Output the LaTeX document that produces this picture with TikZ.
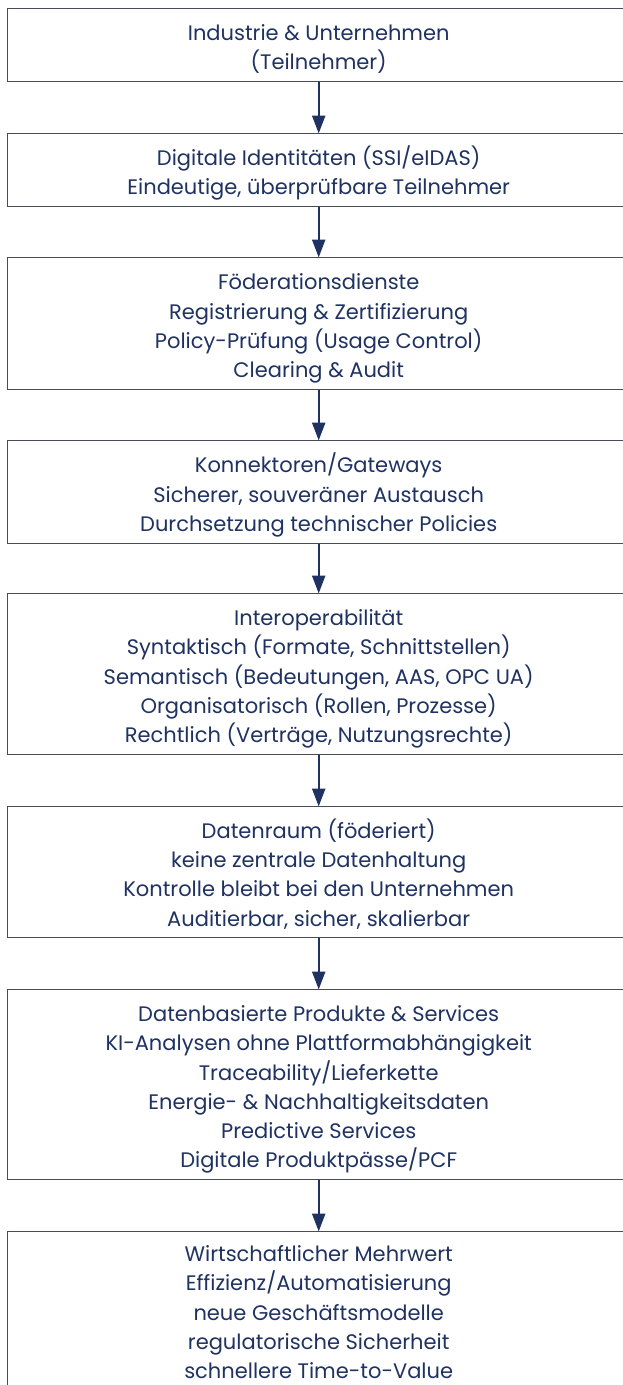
\documentclass[tikz,border=0pt]{standalone}
\usepackage{fontspec}
\setmainfont{Poppins}
\usetikzlibrary{arrows.meta}
\definecolor{navy}{RGB}{31,50,98}
\definecolor{edge}{RGB}{72,76,88}
\newcommand{\tstr}{\rule{0pt}{26pt}}
\newcommand{\tstrlast}{\rule{0pt}{22pt}}
\newcommand{\bstr}{\rule[-6pt]{0pt}{0pt}}
\tikzset{
  stagebox/.style={draw=edge, line width=1.4pt, fill=white, anchor=north west,
    minimum width=622pt, inner sep=0pt, align=center, text=navy,
    font=\fontsize{21}{29.3}\selectfont},
  flowarrow/.style={draw=navy, line width=2.4pt,
    -{Triangle[length=18pt,width=13pt]}, shorten >=-0.5pt}
}
\begin{document}
\begin{tikzpicture}[x=1pt,y=-1pt]
\useasboundingbox (0,0) rectangle (623,1385);
\clip (0,0) rectangle (623,1385);
\fill[white] (0,0) rectangle (623,1385);
\node[stagebox, minimum height=73pt] (b1) at (7,8)
  {\tstr Industrie \& Unternehmen\\(Teilnehmer)\bstr};
\node[stagebox, minimum height=73pt] (b2) at (7,133)
  {\tstr Digitale Identitäten (SSI/eIDAS)\\Eindeutige, überprüfbare Teilnehmer\bstr};
\node[stagebox, minimum height=132pt] (b3) at (7,257)
  {\tstr Föderationsdienste\\Registrierung \& Zertifizierung\\Policy-Prüfung (Usage Control)\\Clearing \& Audit\bstr};
\node[stagebox, minimum height=103pt] (b4) at (7,440)
  {\tstr Konnektoren/Gateways\\Sicherer, souveräner Austausch\\Durchsetzung technischer Policies\bstr};
\node[stagebox, minimum height=161pt] (b5) at (7,593)
  {\tstr Interoperabilität\\Syntaktisch (Formate, Schnittstellen)\\Semantisch (Bedeutungen, AAS, OPC UA)\\Organisatorisch (Rollen, Prozesse)\\Rechtlich (Verträge, Nutzungsrechte)\bstr};
\node[stagebox, minimum height=131pt] (b6) at (7,806)
  {\tstr Datenraum (föderiert)\\keine zentrale Datenhaltung\\Kontrolle bleibt bei den Unternehmen\\Auditierbar, sicher, skalierbar\bstr};
\node[stagebox, minimum height=190pt] (b7) at (7,989)
  {\tstr Datenbasierte Produkte \& Services\\KI-Analysen ohne Plattformabhängigkeit\\Traceability/Lieferkette\\Energie- \& Nachhaltigkeitsdaten\\Predictive Services\\Digitale Produktpässe/PCF\bstr};
\node[stagebox, minimum height=161pt] (b8) at (7,1231)
  {\tstrlast Wirtschaftlicher Mehrwert\\Effizienz/Automatisierung\\neue Geschäftsmodelle\\regulatorische Sicherheit\\schnellere Time-to-Value\bstr};
\draw[flowarrow] (b1.south) -- (b2.north);
\draw[flowarrow] (b2.south) -- (b3.north);
\draw[flowarrow] (b3.south) -- (b4.north);
\draw[flowarrow] (b4.south) -- (b5.north);
\draw[flowarrow] (b5.south) -- (b6.north);
\draw[flowarrow] (b6.south) -- (b7.north);
\draw[flowarrow] (b7.south) -- (b8.north);
\end{tikzpicture}
\end{document}
